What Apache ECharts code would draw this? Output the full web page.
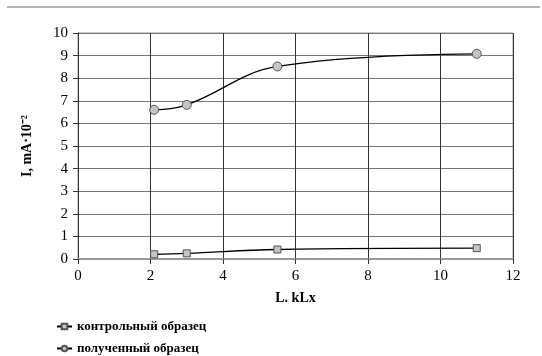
<!DOCTYPE html>
<html><head><meta charset="utf-8">
<script src="https://cdn.jsdelivr.net/npm/echarts@6/dist/echarts.min.js"></script>
<style>html,body{margin:0;padding:0;background:#fff}#c{width:542px;height:356px}</style>
</head><body><div id="c"></div>
<script>
const controlX = [2.1, 3, 5.5, 11];
const controlY = [0.21, 0.25, 0.42, 0.48];
const obtainedX = [2.1, 3, 5.5, 11];
const obtainedY = [6.6, 6.82, 8.52, 9.08];
const seriesNames = ['контрольный образец', 'полученный образец'];
const xTitle = 'L. kLx';
const yTitle = 'I, mA·10⁻²';

const font = 'Liberation Serif';
const legendText = {fontFamily:font, fontWeight:'bold', fontSize:13, color:'#000'};
const chart = echarts.init(document.getElementById('c'));
chart.setOption({
  animation: false,
  graphic: [{type:'line', shape:{x1:7,y1:7,x2:540,y2:7}, style:{stroke:'#666', lineWidth:1}}],
  grid: {left:78, right:29, top:33, bottom:97, show:true, borderColor:'#999', borderWidth:1},
  legend: [
    {left:54, top:318, padding:2, itemWidth:15, itemHeight:7, itemGap:4, textStyle:legendText, data:[seriesNames[0]]},
    {left:54, top:340, padding:2, itemWidth:15, itemHeight:7, itemGap:4, textStyle:legendText, data:[seriesNames[1]]}
  ],
  xAxis: {
    type:'value', min:0, max:12, interval:2,
    name:xTitle, nameLocation:'middle', nameGap:32,
    nameTextStyle:{fontFamily:font, fontWeight:'bold', fontSize:14, color:'#000'},
    axisLine:{show:true, lineStyle:{color:'#999', width:2}},
    axisTick:{show:true, length:5, inside:false, lineStyle:{color:'#333'}},
    axisLabel:{fontFamily:font, fontSize:15, color:'#000', margin:10},
    splitLine:{show:true, lineStyle:{color:'#333', width:1}}
  },
  yAxis: {
    type:'value', min:0, max:10, interval:1,
    name:yTitle, nameLocation:'middle', nameGap:44,
    nameTextStyle:{fontFamily:font, fontWeight:'bold', fontSize:14, color:'#000'},
    axisLine:{show:true, lineStyle:{color:'#333', width:1}},
    axisTick:{show:true, length:5, lineStyle:{color:'#333'}},
    axisLabel:{fontFamily:font, fontSize:15, color:'#000', margin:10},
    splitLine:{show:true, lineStyle:{color:'#777', width:1}}
  },
  series: [
    {
      name: seriesNames[0], type:'line', smooth:0.4,
      data: controlX.map((x,i)=>[x, controlY[i]]),
      symbol:'rect', symbolSize:7,
      itemStyle:{color:'#c4c4c4', borderColor:'#555', borderWidth:1},
      lineStyle:{color:'#000', width:1.3}
    },
    {
      name: seriesNames[1], type:'line', smooth:0.4,
      data: obtainedX.map((x,i)=>[x, obtainedY[i]]),
      symbol:'circle', symbolSize:9,
      itemStyle:{color:'#c4c4c4', borderColor:'#555', borderWidth:1},
      lineStyle:{color:'#000', width:1.3}
    }
  ]
});
</script></body></html>
